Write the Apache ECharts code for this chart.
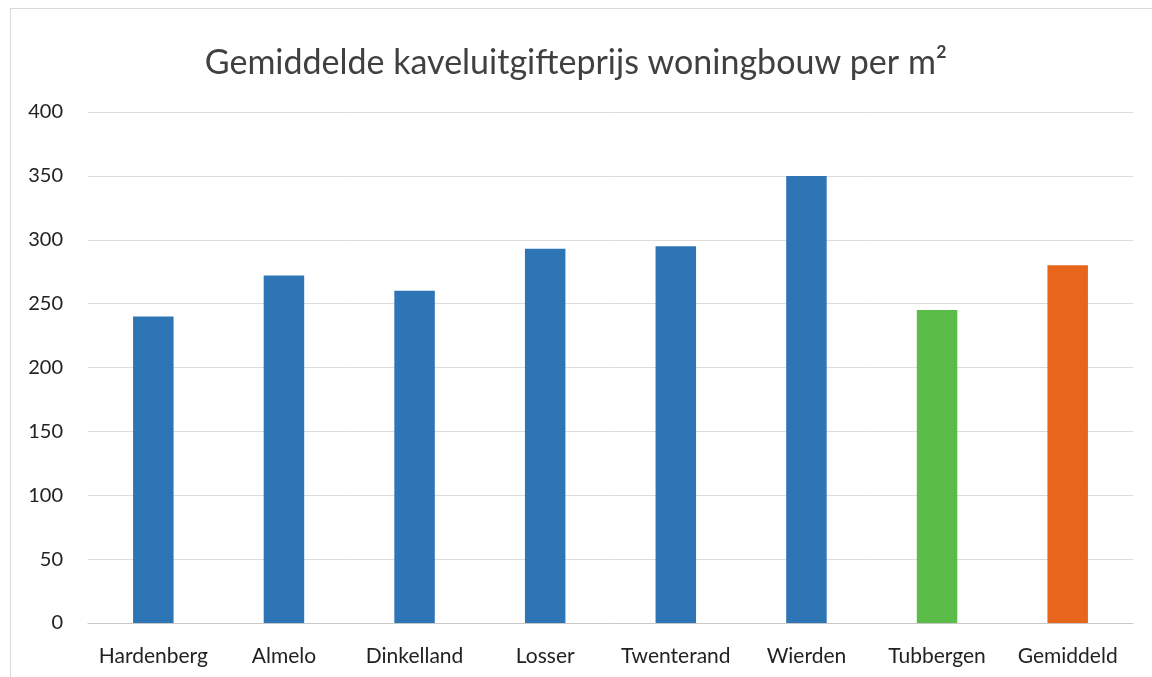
<!DOCTYPE html>
<html>
<head>
<meta charset="utf-8">
<script src="https://cdn.jsdelivr.net/npm/echarts@6/dist/echarts.min.js"></script>
<style>
  html, body { margin: 0; padding: 0; background: #fff; }
  #chart { width: 1152px; height: 677px; }
  #frame { position: absolute; left: 10px; top: 8px; width: 1160px; height: 700px; border: 1px solid #d9d9d9; pointer-events: none; }
</style>
</head>
<body>
<div id="chart"></div>
<div id="frame"></div>
<script>
// data
var categories = ['Hardenberg', 'Almelo', 'Dinkelland', 'Losser', 'Twenterand', 'Wierden', 'Tubbergen', 'Gemiddeld'];
var prices = [240, 272, 260, 293, 295, 350, 245, 280];
var barColors = ['#2e75b6', '#2e75b6', '#2e75b6', '#2e75b6', '#2e75b6', '#2e75b6', '#5bbd47', '#e8661b'];

var chart = echarts.init(document.getElementById('chart'));
chart.setOption({
    animation: false,
    title: {
        text: 'Gemiddelde kaveluitgifteprijs woningbouw per m²',
        left: 'center',
        top: 41,
        textStyle: { fontFamily: 'Lato', fontSize: 34, fontWeight: 'normal', color: '#404040' }
    },
    grid: { left: 88, right: 19, top: 112, bottom: 54 },
    xAxis: {
        type: 'category',
        data: categories,
        axisLine: { lineStyle: { color: '#c8c8c8' } },
        axisTick: { show: false },
        axisLabel: { fontFamily: 'Lato', fontSize: 21, color: '#222', margin: 23, interval: 0 }
    },
    yAxis: {
        type: 'value',
        min: 0,
        max: 400,
        interval: 50,
        axisLabel: { fontFamily: 'Lato', fontSize: 20, color: '#222', margin: 25 },
        splitLine: { lineStyle: { color: '#dcdcdc' } }
    },
    series: [{
        type: 'bar',
        barWidth: '31%',
        data: prices.map(function (v, i) {
            return { value: v, itemStyle: { color: barColors[i] } };
        })
    }]
});
</script>
</body>
</html>
